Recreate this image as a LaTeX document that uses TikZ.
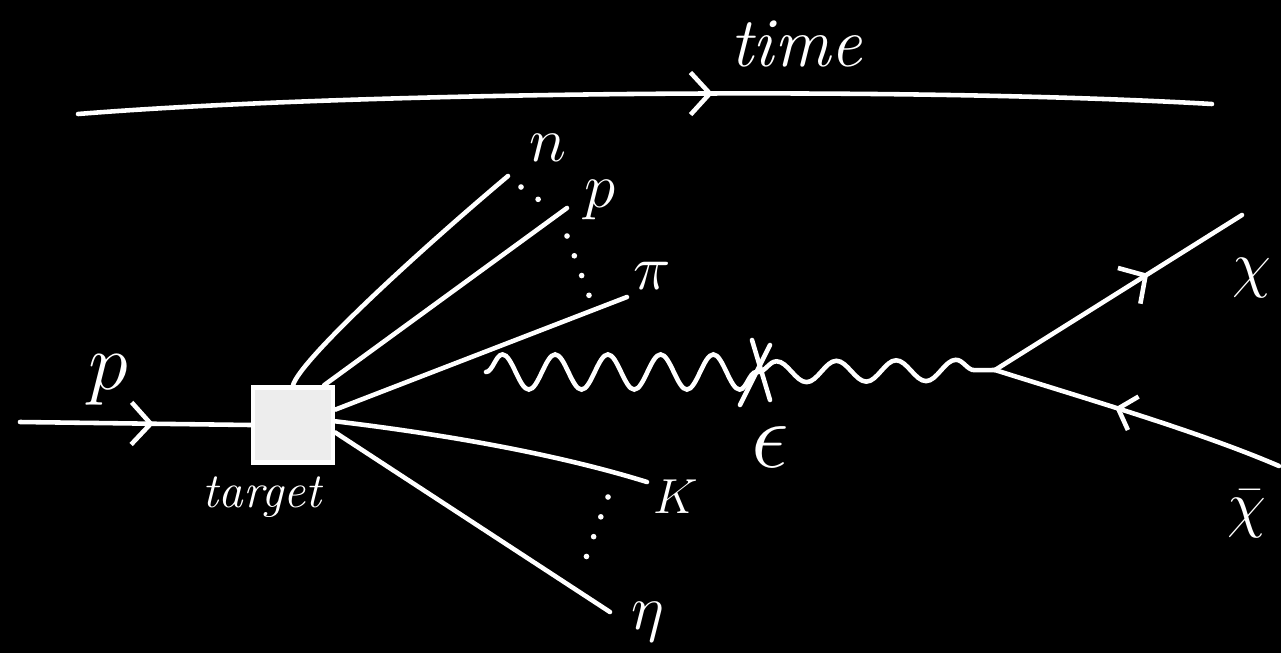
\RequirePackage{fix-cm}
\documentclass[tikz,border=0pt]{standalone}
\usepackage{amsmath}
\usepackage{amssymb}
\usepackage{tikz}
\usetikzlibrary{arrows.meta,decorations.markings,decorations.pathmorphing,positioning}

\begin{document}
\begin{tikzpicture}[x=0.02cm, y=-0.02cm, line width=2.6pt, line cap=round, white,
  lbl/.style={text=white, font=\fontsize{36}{40}\selectfont},
  midarrow/.style={postaction={decorate, decoration={markings,
      mark=at position #1 with {\arrow{Straight Barb[length=11pt, width=24pt]}}}}},
  backarrow/.style={postaction={decorate, decoration={markings,
      mark=at position #1 with {\arrowreversed{Straight Barb[length=9pt, width=20pt]}}}}},
  dotline/.style={dash pattern=on 0pt off 12pt, line width=3.2pt}]
\fill[black] (0,0) rectangle (1281,653);
\useasboundingbox (0,0) rectangle (1281,653);
\clip (0,0) rectangle (1281,653);

\coordinate (tl) at (78,114);
\coordinate (tr) at (1212,104);
\draw[midarrow=0.56] (tl) .. controls (350,92) and (900,86) .. (tr);
\node[lbl, font=\fontsize{40}{44}\selectfont\itshape] (time) at (796,44) {time};

\node[fill=white!93!black, draw=white, minimum width=1.6cm, minimum height=1.5cm] (target) at (293,425) {};
\node[lbl, font=\fontsize{28}{32}\selectfont\itshape] (tlabel) at (262,497) {target};

\coordinate (pin) at (20,422);
\draw[midarrow=0.58] (pin) -- (target.west);
\node[lbl, font=\fontsize{46}{50}\selectfont] (pbeam) at (108,380) {$p$};

\coordinate (nEnd) at (508,176);
\coordinate (pEnd) at (567,208);
\coordinate (piEnd) at (627,297);
\coordinate (kEnd) at (647,482);
\coordinate (etaEnd) at (610,612);
\draw (target.north) .. controls (300,360) and (420,250) .. (nEnd);
\draw (target.52) -- (pEnd);
\draw (target.20) -- (piEnd);
\draw (target.5) .. controls (450,435) and (560,455) .. (kEnd);
\draw (target.-10) -- (etaEnd);

\node[lbl] (n) at (548,148) {$n$};
\node[lbl] (p) at (600,200) {$p$};
\node[lbl] (pi) at (652,276) {$\pi$};
\node[lbl, font=\fontsize{28}{32}\selectfont] (K) at (676,497) {$K$};
\node[lbl] (eta) at (648,622) {$\eta$};

\coordinate (d1) at (521,187);
\coordinate (d2) at (546,205);
\coordinate (d3) at (567,236);
\coordinate (d4) at (590,298);
\coordinate (d5) at (608,497);
\coordinate (d6) at (583,566);
\draw[dotline] (d1) -- (d2);
\draw[dotline] (d3) -- (d4);
\draw[dotline] (d5) -- (d6);

\coordinate (wstart) at (486,372);
\coordinate (cross) at (758,372);
\coordinate (vertex) at (995,370);
\draw[decorate, decoration={snake, amplitude=10pt, segment length=30pt}] (wstart) -- (cross);
\draw[decorate, decoration={snake, amplitude=6pt, segment length=34pt}] (cross) -- (vertex);
\draw ([shift={(-18,33)}]cross) -- ([shift={(12,-27)}]cross);
\draw ([shift={(-6,-32)}]cross) -- ([shift={(12,28)}]cross);
\node[lbl, font=\fontsize{54}{58}\selectfont] (eps) at (770,447) {$\epsilon$};

\coordinate (chiEnd) at (1242,215);
\coordinate (chibEnd) at (1279,466);
\draw[midarrow=0.62] (vertex) -- (chiEnd);
\draw[backarrow=0.42] (vertex) .. controls (1090,400) and (1200,432) .. (chibEnd);
\node[lbl] (chi) at (1252,278) {$\chi$};
\node[lbl] (chib) at (1247,514) {$\bar{\chi}$};
\end{tikzpicture}
\end{document}
